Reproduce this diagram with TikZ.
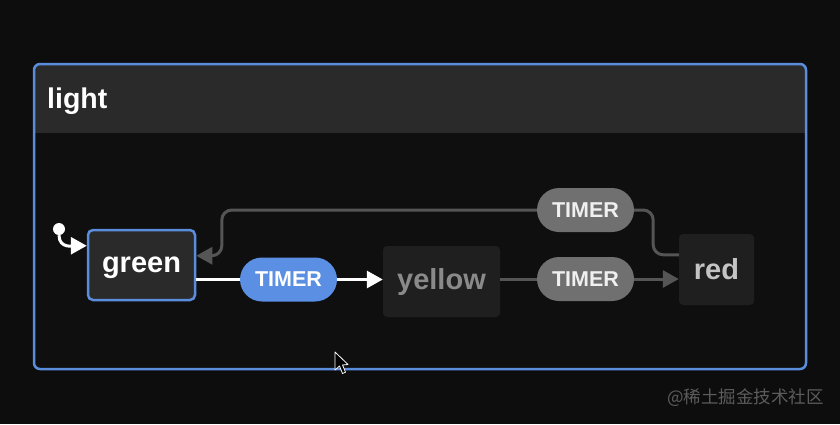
\documentclass[tikz,border=0pt]{standalone}
\usepackage{fontspec}
\setmainfont{Liberation Sans}
\newfontfamily\cjk{Noto Sans CJK SC}
\usetikzlibrary{arrows.meta}
\definecolor{bg}{HTML}{0D0D0D}
\definecolor{bodyc}{HTML}{0F0F0F}
\definecolor{headc}{HTML}{2A2A2A}
\definecolor{blueb}{HTML}{5A8DDC}
\definecolor{bluep}{HTML}{5A8FE3}
\definecolor{activef}{HTML}{2A2A2A}
\definecolor{idlef}{HTML}{1F1F1F}
\definecolor{grayline}{HTML}{555555}
\definecolor{grayp}{HTML}{707070}
\definecolor{yellowt}{HTML}{8A8A8A}
\definecolor{redt}{HTML}{C4C4C4}
\definecolor{wmark}{HTML}{5C5C5C}
\begin{document}
\begin{tikzpicture}[x=1pt,y=-1pt,
  statebox/.style={inner sep=0pt, rounded corners=5pt, font=\fontsize{29}{31}\selectfont\bfseries},
  activebox/.style={statebox, fill=activef, draw=blueb, line width=2.5pt, text=white},
  idlebox/.style={statebox, fill=idlef, rounded corners=4pt},
  pill/.style={inner sep=0pt, minimum width=97pt, minimum height=44pt, rounded corners=22pt, font=\fontsize{21.5}{23}\selectfont\bfseries},
  bluepill/.style={pill, fill=bluep, text=white},
  graypill/.style={pill, fill=grayp, text=white!94!black},
  wline/.style={draw=white, line width=3pt},
  gline/.style={draw=grayline, line width=3pt},
  tip/.style={-{Triangle[length=16pt,width=17pt]}}
]
\useasboundingbox (0,0) rectangle (840,424);
\fill[bg] (0,0) rectangle (840,424);

% outer compound state
\fill[bodyc, rounded corners=6pt] (34,64) rectangle (806,369);
\fill[headc, rounded corners=6pt] (34,64) rectangle (806,100);
\fill[headc] (34,90) rectangle (806,133);
\draw[blueb, line width=2.5pt, rounded corners=6pt] (34,64) rectangle (806,369);
\node[anchor=base west, inner sep=0pt, text=white, font=\fontsize{28.5}{30}\selectfont\bfseries] (title) at (47,108) {light};

% states
\node[activebox, minimum width=107pt, minimum height=70pt] (green) at (141.5,265) {\raisebox{-7.5pt}[0pt][0pt]{green}};
\node[idlebox, minimum width=117pt, minimum height=71pt, text=yellowt] (yellow) at (441.5,281.5) {yellow};
\node[idlebox, minimum width=75pt, minimum height=71pt, text=redt] (red) at (716.5,269.5) {red};

% events
\node[bluepill] (t1) at (288.5,279.5) {TIMER};
\node[graypill] (t2) at (585.5,279) {TIMER};
\node[graypill] (t3) at (585.5,210) {TIMER};

% initial
\node[circle, fill=white, inner sep=0pt, minimum size=12pt] (init) at (59,229) {};
\draw[wline, tip] (init.south) .. controls +(0,14) and +(-12,0) .. ([yshift=-17pt]green.north west);

% transitions
\draw[wline] (t1.west -| green.east) -- (t1.west);
\draw[wline, tip] (t1.east) -- (t1.east -| yellow.west);
\draw[gline] (t2.west -| yellow.east) -- (t2.west);
\draw[gline, tip] (t2.east) -- (t2.east -| red.west);
\draw[gline, rounded corners=10pt] (t3.east) -- ++(19,0) |- ([yshift=-21pt]red.north west);
\draw[gline, tip, rounded corners=10pt] (t3.west) -- ++(-315,0) |- ([yshift=-27pt]green.north east);

% cursor
\draw[white, fill=black, line width=0.8pt, line join=round] (335,352) -- (335,370) -- (339.5,366) -- (342.5,373.5) -- (345.5,372.2) -- (342.5,365) -- (348,364.5) -- cycle;

% watermark
\node[anchor=west, inner sep=0pt, text=wmark, font=\cjk\fontsize{17.5}{20}\selectfont] (wm) at (667,398) {@稀土掘金技术社区};
\end{tikzpicture}
\end{document}
